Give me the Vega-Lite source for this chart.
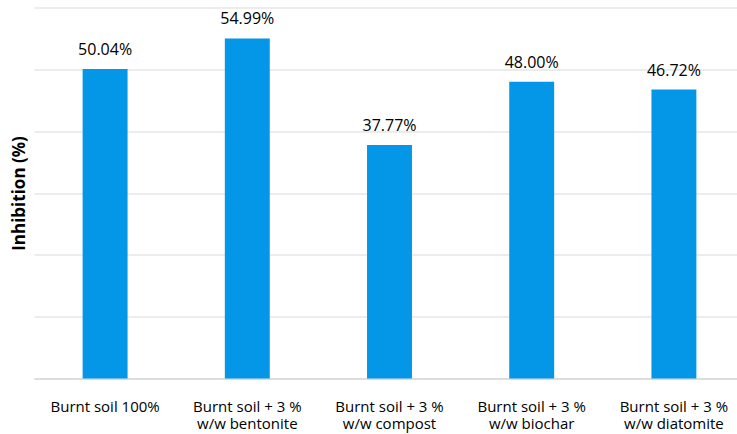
{
  "$schema": "https://vega.github.io/schema/vega-lite/v6.json",
  "width": 711,
  "height": 371,
  "autosize": {"type": "none"},
  "padding": {"left": 34, "top": 7.5, "right": 0, "bottom": 56},
  "background": "white",
  "config": {"view": {"stroke": null}, "font": "Open Sans"},
  "data": {"values": [
    {"group": "Burnt soil 100%", "value": 50.04},
    {"group": "Burnt soil + 3 % w/w bentonite", "value": 54.99},
    {"group": "Burnt soil + 3 % w/w compost", "value": 37.77},
    {"group": "Burnt soil + 3 % w/w biochar", "value": 48.00},
    {"group": "Burnt soil + 3 % w/w diatomite", "value": 46.72}
  ]},
  "encoding": {
    "x": {
      "field": "group", "type": "nominal", "sort": null,
      "scale": {"paddingInner": 0.684, "paddingOuter": 0.342},
      "axis": {
        "title": null, "labelAngle": 0, "ticks": false, "domainColor": "#d9d9d9", "domainWidth": 1.5,
        "labelFontSize": 15, "labelColor": "#000000", "labelPadding": 21, "labelLineHeight": 17,
        "labelBaseline": "top", "labelLimit": 200,
        "labelExpr": "indexof(datum.label,' w/w')>0 ? [substring(datum.label,0,indexof(datum.label,' w/w')), substring(datum.label,indexof(datum.label,' w/w')+1)] : datum.label"
      }
    },
    "y": {
      "field": "value", "type": "quantitative",
      "scale": {"domain": [0, 60], "nice": false},
      "axis": {
        "title": "Inhibition (%)", "titleFontSize": 17, "titleFontWeight": "bold", "titleColor": "#000000",
        "titlePadding": 6, "labels": false, "ticks": false, "domain": false,
        "values": [0, 10, 20, 30, 40, 50, 60], "gridColor": "#d9d9d9", "gridWidth": 1.2
      }
    }
  },
  "layer": [
    {"mark": {"type": "bar", "color": "#0497E8"}},
    {"mark": {"type": "text", "dy": -19, "fontSize": 16, "color": "#000000",
              "text": {"expr": "format(datum.value, '.2f') + '%'"}}}
  ]
}
